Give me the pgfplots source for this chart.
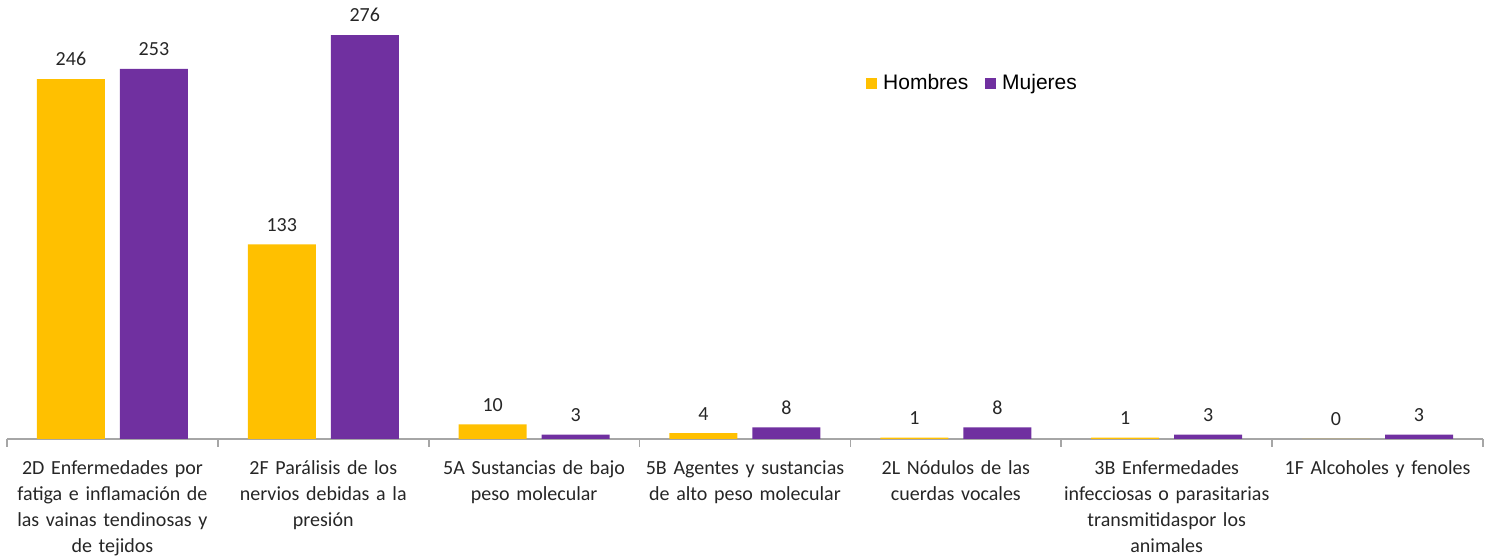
\documentclass[border=0pt]{standalone}
\usepackage{fontspec}
\setmainfont{Carlito}
\newfontfamily\arialf{Liberation Sans}
\usepackage{pgfplots}
\pgfplotsset{compat=1.18}
\definecolor{hom}{HTML}{FFC000}
\definecolor{muj}{HTML}{7030A0}
\definecolor{lbl}{HTML}{262626}
\definecolor{axc}{HTML}{A6A6A6}
\begin{document}
\begin{tikzpicture}
\begin{axis}[
  at={(0,0)}, anchor=south west,
  scale only axis, width=738pt, height=219.5pt,
  ybar=7.5pt, bar width=34pt,
  xmin=-0.5, xmax=6.5, ymin=0, ymax=300,
  axis x line*=bottom, axis y line=none,
  x axis line style={draw=axc, line width=0.8pt},
  xtick={0,1,2,3,4,5,6},
  xticklabels={
    {2D Enfermedades por\\fatiga e inflamación de\\las vainas tendinosas y\\de tejidos},
    {2F Parálisis de los\\nervios debidas a la\\presión},
    {5A Sustancias de bajo\\peso molecular},
    {5B Agentes y sustancias\\de alto peso molecular},
    {2L Nódulos de las\\cuerdas vocales},
    {3B Enfermedades\\infecciosas o parasitarias\\transmitidaspor los\\animales},
    {1F Alcoholes y fenoles}},
  major tick length=0pt,
  xticklabel style={text width=110pt, align=center, font=\fontsize{10}{13}\selectfont, text=lbl, yshift=-7.5pt},
  extra x ticks={-0.5,0.5,1.5,2.5,3.5,4.5,5.5,6.5},
  extra x tick labels={},
  extra x tick style={major tick length=4pt, tick align=outside, tick style={draw=axc, line width=0.8pt}},
  /pgf/number format/assume math mode=true,
  nodes near coords,
  every node near coord/.append style={font=\fontsize{10}{12}\selectfont, text=lbl, yshift=3pt},
  clip=false,
  legend style={at={(0.582,0.809)}, anchor=west, draw=none, fill=none, inner sep=0pt,
    legend columns=2, font=\arialf\fontsize{10.5}{13}\selectfont,
    /tikz/every even column/.append style={column sep=6.5pt}},
]
\addplot[fill=hom, draw=none, legend image code/.code={\fill[hom] (0pt,-2.7pt) rectangle (5.4pt,2.7pt);}]
  coordinates {(0,246) (1,133) (2,10) (3,4) (4,1) (5,1) (6,0)};
\addplot[fill=muj, draw=none, legend image code/.code={\fill[muj] (0pt,-2.7pt) rectangle (5.4pt,2.7pt);}]
  coordinates {(0,253) (1,276) (2,3) (3,8) (4,8) (5,3) (6,3)};
\legend{\hspace{1pt}Hombres, \hspace{1pt}Mujeres}
\end{axis}
\pgfresetboundingbox
\path (-3.5pt,-59pt) rectangle (739pt,219.5pt);
\end{tikzpicture}
\end{document}
